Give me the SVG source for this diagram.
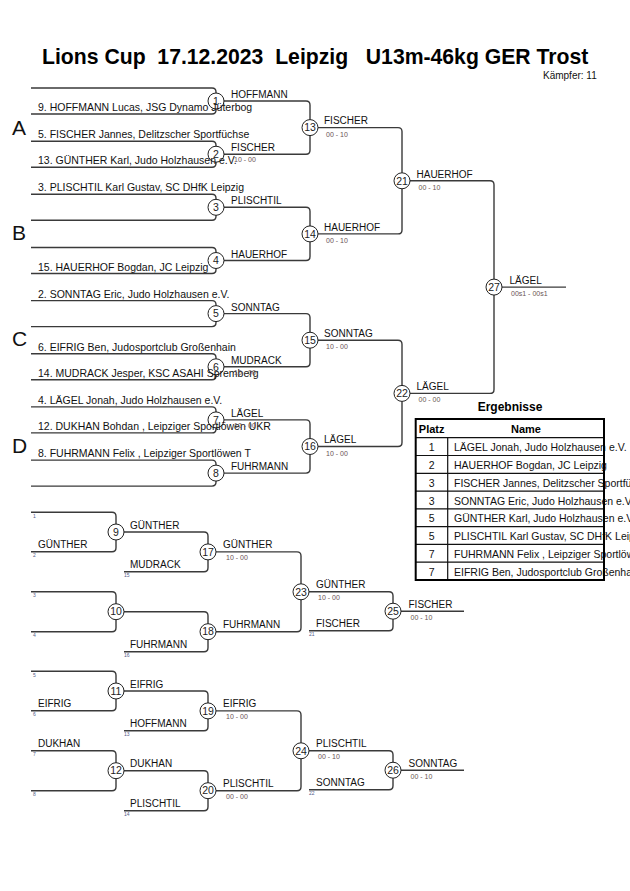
<svg xmlns="http://www.w3.org/2000/svg" width="630" height="891" viewBox="0 0 630 891">
<style>
text{font-family:"Liberation Sans",Arial,sans-serif;fill:#111;white-space:pre}
.ln{fill:none;stroke:#3a3a3a;stroke-width:1.4}
.c{fill:#fff;stroke:#222;stroke-width:1}
.cn{font-size:10.5px;text-anchor:middle;fill:#222}
.nm{font-size:10.5px}
.lb{font-size:10px}
.sc{font-size:7px;fill:#6a5454}
.ix{font-size:5px;fill:#56608a}
.pool{font-size:21px}
.title{font-size:21.2px;font-weight:bold;fill:#000}
.th{font-size:11px;font-weight:bold;fill:#000}
.tb{stroke:#111;stroke-width:1.2;fill:none}
</style>
<rect width="630" height="891" fill="#fff"/>
<text class="title" x="42" y="64">Lions Cup  17.12.2023  Leipzig   U13m-46kg GER Trost</text>
<text x="543" y="79" style="font-size:10px">Kämpfer: 11</text>
<g id="pools">
<text class="pool" x="12" y="134.5">A</text>
<text class="pool" x="12" y="240">B</text>
<text class="pool" x="12" y="346">C</text>
<text class="pool" x="12" y="452.5">D</text>
</g>
<g id="connectors">
<path class="ln" d="M31,88 H212 Q216,88 216,92 V110 Q216,114 212,114 H31"/>
<path class="ln" d="M31,141.2 H212 Q216,141.2 216,145.2 V163.2 Q216,167.2 212,167.2 H31"/>
<path class="ln" d="M31,194.3 H212 Q216,194.3 216,198.3 V216.3 Q216,220.3 212,220.3 H31"/>
<path class="ln" d="M31,247.5 H212 Q216,247.5 216,251.5 V269.5 Q216,273.5 212,273.5 H31"/>
<path class="ln" d="M31,300.6 H212 Q216,300.6 216,304.6 V322.6 Q216,326.6 212,326.6 H31"/>
<path class="ln" d="M31,353.8 H212 Q216,353.8 216,357.8 V375.8 Q216,379.8 212,379.8 H31"/>
<path class="ln" d="M31,406.9 H212 Q216,406.9 216,410.9 V428.9 Q216,432.9 212,432.9 H31"/>
<path class="ln" d="M31,460.1 H212 Q216,460.1 216,464.1 V482.1 Q216,486.1 212,486.1 H31"/>
<path class="ln" d="M216,101 H306 Q310,101 310,105 V150.2 Q310,154.2 306,154.2 H216"/>
<path class="ln" d="M216,207.3 H306 Q310,207.3 310,211.3 V256.5 Q310,260.5 306,260.5 H216"/>
<path class="ln" d="M216,313.6 H306 Q310,313.6 310,317.6 V362.8 Q310,366.8 306,366.8 H216"/>
<path class="ln" d="M216,419.9 H306 Q310,419.9 310,423.9 V469.1 Q310,473.1 306,473.1 H216"/>
<path class="ln" d="M310,127.6 H398 Q402,127.6 402,131.6 V229.9 Q402,233.9 398,233.9 H310"/>
<path class="ln" d="M310,340.2 H398 Q402,340.2 402,344.2 V442.5 Q402,446.5 398,446.5 H310"/>
<path class="ln" d="M402,180.8 H490 Q494,180.8 494,184.8 V389.4 Q494,393.4 490,393.4 H402"/>
<path class="ln" d="M494,287.1 H566"/>
<path class="ln" d="M31,512.3 H112 Q116,512.3 116,516.3 V547.7 Q116,551.7 112,551.7 H31"/>
<path class="ln" d="M31,591.7 H112 Q116,591.7 116,595.7 V627.7 Q116,631.7 112,631.7 H31"/>
<path class="ln" d="M116,532 H204 Q208,532 208,536 V567.7 Q208,571.7 204,571.7 H124"/>
<path class="ln" d="M116,611.7 H204 Q208,611.7 208,615.7 V647.7 Q208,651.7 204,651.7 H124"/>
<path class="ln" d="M208,551.9 H297 Q301,551.9 301,555.9 V627.7 Q301,631.7 297,631.7 H208"/>
<path class="ln" d="M301,591.8 H389 Q393,591.8 393,595.8 V626.7 Q393,630.7 389,630.7 H309"/>
<path class="ln" d="M393,611.2 H464"/>
<path class="ln" d="M31,671.3 H112 Q116,671.3 116,675.3 V706.7 Q116,710.7 112,710.7 H31"/>
<path class="ln" d="M31,750.7 H112 Q116,750.7 116,754.7 V786.7 Q116,790.7 112,790.7 H31"/>
<path class="ln" d="M116,691 H204 Q208,691 208,695 V726.7 Q208,730.7 204,730.7 H124"/>
<path class="ln" d="M116,770.7 H204 Q208,770.7 208,774.7 V806.7 Q208,810.7 204,810.7 H124"/>
<path class="ln" d="M208,710.9 H297 Q301,710.9 301,714.9 V786.7 Q301,790.7 297,790.7 H208"/>
<path class="ln" d="M301,750.8 H389 Q393,750.8 393,754.8 V785.7 Q393,789.7 389,789.7 H309"/>
<path class="ln" d="M393,770.2 H464"/>
</g>
<g id="m1"><circle class="c" cx="216" cy="101" r="8"/><text class="cn" x="216" y="104.7">1</text></g>
<g id="m2"><circle class="c" cx="216" cy="154.2" r="8"/><text class="cn" x="216" y="157.9">2</text></g>
<g id="m3"><circle class="c" cx="216" cy="207.3" r="8"/><text class="cn" x="216" y="211">3</text></g>
<g id="m4"><circle class="c" cx="216" cy="260.5" r="8"/><text class="cn" x="216" y="264.2">4</text></g>
<g id="m5"><circle class="c" cx="216" cy="313.6" r="8"/><text class="cn" x="216" y="317.3">5</text></g>
<g id="m6"><circle class="c" cx="216" cy="366.8" r="8"/><text class="cn" x="216" y="370.5">6</text></g>
<g id="m7"><circle class="c" cx="216" cy="419.9" r="8"/><text class="cn" x="216" y="423.6">7</text></g>
<g id="m8"><circle class="c" cx="216" cy="473.1" r="8"/><text class="cn" x="216" y="476.8">8</text></g>
<g id="m13"><circle class="c" cx="310" cy="127.6" r="8"/><text class="cn" x="310" y="131.3">13</text></g>
<g id="m14"><circle class="c" cx="310" cy="233.9" r="8"/><text class="cn" x="310" y="237.6">14</text></g>
<g id="m15"><circle class="c" cx="310" cy="340.2" r="8"/><text class="cn" x="310" y="343.9">15</text></g>
<g id="m16"><circle class="c" cx="310" cy="446.5" r="8"/><text class="cn" x="310" y="450.2">16</text></g>
<g id="m21"><circle class="c" cx="402" cy="180.8" r="8"/><text class="cn" x="402" y="184.5">21</text></g>
<g id="m22"><circle class="c" cx="402" cy="393.4" r="8"/><text class="cn" x="402" y="397.1">22</text></g>
<g id="m27"><circle class="c" cx="494" cy="287.1" r="8"/><text class="cn" x="494" y="290.8">27</text></g>
<g id="m9"><circle class="c" cx="116" cy="532" r="8"/><text class="cn" x="116" y="535.7">9</text></g>
<g id="m10"><circle class="c" cx="116" cy="611.7" r="8"/><text class="cn" x="116" y="615.4">10</text></g>
<g id="m17"><circle class="c" cx="208" cy="551.9" r="8"/><text class="cn" x="208" y="555.6">17</text></g>
<g id="m18"><circle class="c" cx="208" cy="631.7" r="8"/><text class="cn" x="208" y="635.4">18</text></g>
<g id="m23"><circle class="c" cx="301" cy="591.8" r="8"/><text class="cn" x="301" y="595.5">23</text></g>
<g id="m25"><circle class="c" cx="393" cy="611.2" r="8"/><text class="cn" x="393" y="614.9">25</text></g>
<g id="m11"><circle class="c" cx="116" cy="691" r="8"/><text class="cn" x="116" y="694.7">11</text></g>
<g id="m12"><circle class="c" cx="116" cy="770.7" r="8"/><text class="cn" x="116" y="774.4">12</text></g>
<g id="m19"><circle class="c" cx="208" cy="710.9" r="8"/><text class="cn" x="208" y="714.6">19</text></g>
<g id="m20"><circle class="c" cx="208" cy="790.7" r="8"/><text class="cn" x="208" y="794.4">20</text></g>
<g id="m24"><circle class="c" cx="301" cy="750.8" r="8"/><text class="cn" x="301" y="754.5">24</text></g>
<g id="m26"><circle class="c" cx="393" cy="770.2" r="8"/><text class="cn" x="393" y="773.9">26</text></g>
<g id="competitors">
<text class="nm" x="38" y="111">9. HOFFMANN Lucas, JSG Dynamo Jüterbog</text>
<text class="nm" x="38" y="138.2">5. FISCHER Jannes, Delitzscher Sportfüchse</text>
<text class="nm" x="38" y="164.2">13. GÜNTHER Karl, Judo Holzhausen e.V.</text>
<text class="nm" x="38" y="191.3">3. PLISCHTIL Karl Gustav, SC DHfK Leipzig</text>
<text class="nm" x="38" y="270.5">15. HAUERHOF Bogdan, JC Leipzig</text>
<text class="nm" x="38" y="297.6">2. SONNTAG Eric, Judo Holzhausen e.V.</text>
<text class="nm" x="38" y="350.8">6. EIFRIG Ben, Judosportclub Großenhain</text>
<text class="nm" x="38" y="376.8">14. MUDRACK Jesper, KSC ASAHI Spremberg</text>
<text class="nm" x="38" y="403.9">4. LÄGEL Jonah, Judo Holzhausen e.V.</text>
<text class="nm" x="38" y="429.9">12. DUKHAN Bohdan , Leipziger Sportlöwen UKR</text>
<text class="nm" x="38" y="457.1">8. FUHRMANN Felix , Leipziger Sportlöwen T</text>
</g>
<g id="results-main">
<text class="lb" x="231" y="98">HOFFMANN</text>
<text class="lb" x="231" y="151.2">FISCHER</text>
<text class="sc" x="234" y="162.2">10 - 00</text>
<text class="lb" x="231" y="204.3">PLISCHTIL</text>
<text class="lb" x="231" y="257.5">HAUERHOF</text>
<text class="lb" x="231" y="310.6">SONNTAG</text>
<text class="lb" x="231" y="363.8">MUDRACK</text>
<text class="sc" x="234" y="375">10 - 00</text>
<text class="lb" x="231" y="416.9">LÄGEL</text>
<text class="sc" x="234" y="428">10 - 00</text>
<text class="lb" x="231" y="470.1">FUHRMANN</text>
<text class="lb" x="324" y="124.3">FISCHER</text>
<text class="sc" x="326" y="136.6">00 - 10</text>
<text class="lb" x="324" y="230.6">HAUERHOF</text>
<text class="sc" x="326" y="242.9">00 - 10</text>
<text class="lb" x="324" y="336.9">SONNTAG</text>
<text class="sc" x="326" y="349.2">10 - 00</text>
<text class="lb" x="324" y="443.2">LÄGEL</text>
<text class="sc" x="326" y="455.5">10 - 00</text>
<text class="lb" x="416.5" y="177.5">HAUERHOF</text>
<text class="sc" x="418.5" y="189.7">00 - 10</text>
<text class="lb" x="416.5" y="390">LÄGEL</text>
<text class="sc" x="418.5" y="402.3">00 - 00</text>
<text class="lb" x="509.5" y="284">LÄGEL</text>
<text class="sc" x="511" y="296.3">00s1 - 00s1</text>
</g>
<g id="results-repechage">
<text class="ix" x="33" y="517.6">1</text>
<text class="ix" x="33" y="557">2</text>
<text class="ix" x="33" y="597">3</text>
<text class="ix" x="33" y="637">4</text>
<text class="ix" x="33" y="676.6">5</text>
<text class="ix" x="33" y="716">6</text>
<text class="ix" x="33" y="756">7</text>
<text class="ix" x="33" y="796">8</text>
<text class="ix" x="124" y="577">15</text>
<text class="ix" x="124" y="657">16</text>
<text class="ix" x="124" y="736">13</text>
<text class="ix" x="124" y="816">14</text>
<text class="ix" x="309" y="636">21</text>
<text class="ix" x="309" y="795">22</text>
<text class="lb" x="38" y="548.3">GÜNTHER</text>
<text class="lb" x="38" y="707.3">EIFRIG</text>
<text class="lb" x="38" y="747.3">DUKHAN</text>
<text class="lb" x="130" y="528.6">GÜNTHER</text>
<text class="lb" x="130" y="568.3">MUDRACK</text>
<text class="lb" x="130" y="648.3">FUHRMANN</text>
<text class="lb" x="130" y="687.6">EIFRIG</text>
<text class="lb" x="130" y="727.3">HOFFMANN</text>
<text class="lb" x="130" y="767.3">DUKHAN</text>
<text class="lb" x="130" y="807.3">PLISCHTIL</text>
<text class="lb" x="223" y="548.4">GÜNTHER</text>
<text class="sc" x="226" y="560.3">10 - 00</text>
<text class="lb" x="223" y="628.3">FUHRMANN</text>
<text class="lb" x="223" y="707.4">EIFRIG</text>
<text class="sc" x="226" y="719.3">10 - 00</text>
<text class="lb" x="223" y="787.3">PLISCHTIL</text>
<text class="sc" x="226" y="799">00 - 00</text>
<text class="lb" x="316" y="588.4">GÜNTHER</text>
<text class="sc" x="318" y="600.3">10 - 00</text>
<text class="lb" x="316" y="627.3">FISCHER</text>
<text class="lb" x="316" y="747.4">PLISCHTIL</text>
<text class="sc" x="318" y="759.3">00 - 10</text>
<text class="lb" x="316" y="786.3">SONNTAG</text>
<text class="lb" x="408.5" y="607.8">FISCHER</text>
<text class="sc" x="410.5" y="620">00 - 10</text>
<text class="lb" x="408.5" y="767">SONNTAG</text>
<text class="sc" x="410.5" y="779">00 - 10</text>
</g>
<g id="ergebnisse">
<text x="510" y="411" style="font-size:12px;font-weight:bold;text-anchor:middle;fill:#000">Ergebnisse</text>
<text class="th" x="431.7" y="432.5" text-anchor="middle">Platz</text>
<text class="th" x="526" y="432.5" text-anchor="middle">Name</text>
<g class="nm">
<text x="431.7" y="451.2" text-anchor="middle" style="font-size:10.5px">1</text>
<text x="454" y="451.2" style="font-size:10.5px">LÄGEL Jonah, Judo Holzhausen e.V.</text>
<text x="431.7" y="469" text-anchor="middle" style="font-size:10.5px">2</text>
<text x="454" y="469" style="font-size:10.5px">HAUERHOF Bogdan, JC Leipzig</text>
<text x="431.7" y="486.8" text-anchor="middle" style="font-size:10.5px">3</text>
<text x="454" y="486.8" style="font-size:10.5px">FISCHER Jannes, Delitzscher Sportfüchse</text>
<text x="431.7" y="504.6" text-anchor="middle" style="font-size:10.5px">3</text>
<text x="454" y="504.6" style="font-size:10.5px">SONNTAG Eric, Judo Holzhausen e.V.</text>
<text x="431.7" y="522.3" text-anchor="middle" style="font-size:10.5px">5</text>
<text x="454" y="522.3" style="font-size:10.5px">GÜNTHER Karl, Judo Holzhausen e.V.</text>
<text x="431.7" y="540.1" text-anchor="middle" style="font-size:10.5px">5</text>
<text x="454" y="540.1" style="font-size:10.5px">PLISCHTIL Karl Gustav, SC DHfK Leipzig</text>
<text x="431.7" y="557.9" text-anchor="middle" style="font-size:10.5px">7</text>
<text x="454" y="557.9" style="font-size:10.5px">FUHRMANN Felix , Leipziger Sportlöwen T</text>
<text x="431.7" y="575.7" text-anchor="middle" style="font-size:10.5px">7</text>
<text x="454" y="575.7" style="font-size:10.5px">EIFRIG Ben, Judosportclub Großenhain</text>
</g>
<path class="tb" d="M415.7,437.7 H604 M415.7,455.5 H604 M415.7,473.3 H604 M415.7,491.1 H604 M415.7,508.9 H604 M415.7,526.6 H604 M415.7,544.4 H604 M415.7,562.2 H604 M447.7,437.7 V580"/>
<rect x="415.7" y="419" width="188.3" height="161" fill="none" stroke="#000" stroke-width="2"/>
</g>
</svg>
